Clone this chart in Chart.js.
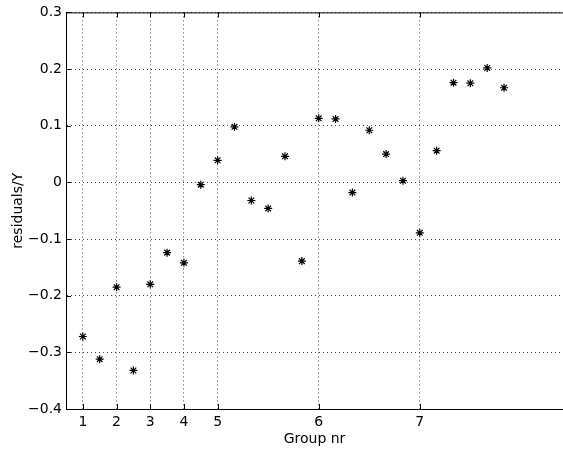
<!DOCTYPE html>
<html>
<head>
<meta charset="utf-8">
<script src="https://cdn.jsdelivr.net/npm/chart.js@4.4.0/dist/chart.umd.min.js"></script>
<style>
  html, body { margin: 0; padding: 0; background: #fff; }
  canvas { display: block; }
</style>
</head>
<body>
<canvas id="chart" width="563" height="451"></canvas>
<script>
// position of each observation along the x axis (half-group steps)
const groupPos = [1, 2, 3, 4, 5, 6, 7, 8, 9, 10, 11, 12, 13, 14, 15, 16, 17, 18, 19, 20, 21, 22, 23, 24, 25, 26];
const residuals = [-0.272, -0.312, -0.185, -0.332, -0.180, -0.124, -0.142, -0.004, 0.039, 0.098,
                   -0.032, -0.046, 0.046, -0.139, 0.113, 0.112, -0.018, 0.092, 0.050, 0.003,
                   -0.089, 0.056, 0.176, 0.175, 0.202, 0.167];

const xTickPos = [1, 3, 5, 7, 9, 15, 21];
const xTickLabels = ['1', '2', '3', '4', '5', '6', '7'];
const yTickVals = [-0.4, -0.3, -0.2, -0.1, 0, 0.1, 0.2, 0.3];
const yTickLabels = ['\u22120.4', '\u22120.3', '\u22120.2', '\u22120.1', '0', '0.1', '0.2', '0.3'];

const fontFamily = '"DejaVu Sans", "Liberation Sans", Arial, sans-serif';
const tickLen = 5;

// matlab style box: top line plus inward tick marks
const matlabBox = {
  id: 'matlabBox',
  afterDraw(chart) {
    const { ctx, chartArea: a, scales: { x, y } } = chart;
    ctx.save();
    ctx.strokeStyle = '#000';
    ctx.lineWidth = 1;
    ctx.beginPath();
    ctx.moveTo(a.left, a.top + 0.5);
    ctx.lineTo(a.right, a.top + 0.5);
    xTickPos.forEach(v => {
      const px = Math.round(x.getPixelForValue(v)) + 0.5;
      ctx.moveTo(px, a.bottom);
      ctx.lineTo(px, a.bottom - tickLen);
      ctx.moveTo(px, a.top);
      ctx.lineTo(px, a.top + tickLen);
    });
    yTickVals.forEach(v => {
      const py = Math.round(y.getPixelForValue(v)) + 0.5;
      ctx.moveTo(a.left, py);
      ctx.lineTo(a.left + tickLen, py);
    });
    ctx.stroke();
    ctx.restore();
  }
};

new Chart(document.getElementById('chart'), {
  type: 'scatter',
  data: {
    datasets: [{
      data: groupPos.map((g, i) => ({ x: g, y: residuals[i] })),
      pointStyle: 'star',
      pointRadius: 4,
      borderColor: '#000',
      backgroundColor: '#000',
      borderWidth: 1.2
    }]
  },
  options: {
    responsive: false,
    animation: false,
    layout: { autoPadding: false, padding: { top: 11, right: 0, left: 0, bottom: 0 } },
    plugins: { legend: { display: false }, tooltip: { enabled: false } },
    scales: {
      x: {
        type: 'linear',
        min: 0,
        max: 29.5,
        afterBuildTicks: axis => { axis.ticks = xTickPos.map(v => ({ value: v })); },
        afterFit: axis => {
          axis.height = 42;
          axis.paddingLeft = 0;
          axis.paddingRight = 0;
        },
        ticks: {
          autoSkip: false,
          maxRotation: 0,
          padding: 5,
          color: '#000',
          font: { family: fontFamily, size: 14 },
          callback: v => xTickLabels[xTickPos.indexOf(v)]
        },
        grid: { color: 'rgba(0,0,0,0.7)', drawTicks: false },
        border: { color: '#000', width: 1, dash: [1, 3] },
        title: {
          display: true,
          text: 'Group nr',
          color: '#000',
          font: { family: fontFamily, size: 14 },
          padding: { top: 0, bottom: 3 }
        }
      },
      y: {
        min: -0.4,
        max: 0.3,
        afterBuildTicks: axis => { axis.ticks = yTickVals.map(v => ({ value: v })); },
        afterFit: axis => { axis.width = 66; },
        ticks: {
          padding: 4,
          color: '#000',
          font: { family: fontFamily, size: 14 },
          callback: v => yTickLabels[yTickVals.findIndex(t => Math.abs(t - v) < 1e-9)]
        },
        grid: { color: 'rgba(0,0,0,0.7)', drawTicks: false },
        border: { color: '#000', width: 1, dash: [1, 3] },
        title: {
          display: true,
          text: 'residuals/Y',
          color: '#000',
          font: { family: fontFamily, size: 14 },
          padding: { top: 10, bottom: 0 }
        }
      }
    }
  },
  plugins: [matlabBox]
});
</script>
</body>
</html>
